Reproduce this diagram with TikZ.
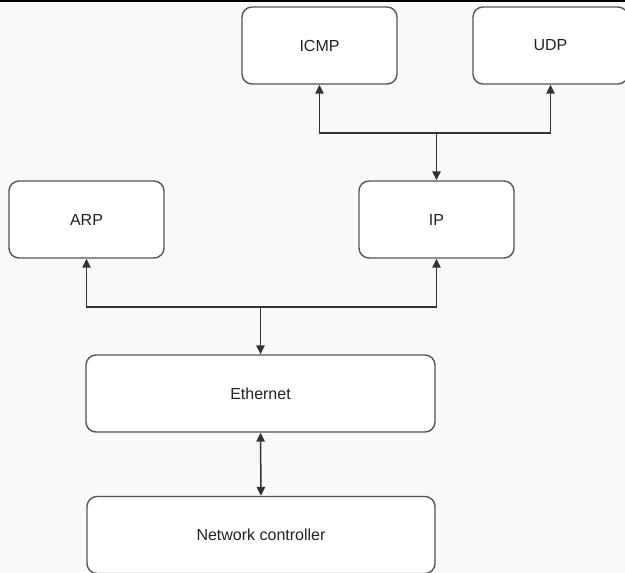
\documentclass[tikz,border=0pt]{standalone}
\usepackage{fontspec}
\setmainfont{Liberation Sans}
\usetikzlibrary{arrows.meta}
\definecolor{bgc}{HTML}{F9F9F9}
\definecolor{boxline}{HTML}{555555}
\definecolor{arrowc}{HTML}{333333}
\definecolor{textc}{HTML}{222222}
\begin{document}
\begin{tikzpicture}[x=1pt,y=-1pt,
  box/.style={draw=boxline, fill=white, rounded corners=10pt, line width=1.4pt,
    inner sep=0pt, minimum height=77pt, text=textc,
    font=\fontsize{16}{19}\selectfont},
  tip/.style={},
  conn/.style={draw=arrowc, line width=1.5pt, -{Triangle[length=9pt,width=8.5pt]}},
  dconn/.style={draw=arrowc, line width=1.5pt, {Triangle[length=9pt,width=8.5pt]}-{Triangle[length=9pt,width=8.5pt]}}]
\useasboundingbox (0,0) rectangle (625,573);
\fill[bgc] (0,0) rectangle (625,573);
\clip (0,0) rectangle (625,573);
\draw[black, line width=2pt] (0,1) -- (625,1);
\node[box, minimum width=155pt] (icmp) at (319.5,45.5) {ICMP};
\node[box, minimum width=155pt] (udp) at (550.5,45.5) {UDP};
\node[box, minimum width=155pt] (arp) at (86.5,219.5) {ARP};
\node[box, minimum width=155pt] (ip) at (436.5,219.5) {IP};
\node[box, minimum width=349pt] (eth) at (260.5,393.5) {Ethernet};
\node[box, minimum width=348pt] (nc) at (261,535) {Network controller};
\coordinate (j1) at (436.5,133);
\coordinate (j2) at (260.5,307);
\draw[conn] (j1) -| (icmp.south);
\draw[conn] (j1) -| (udp.south);
\draw[conn] (j1) -- (ip.north);
\draw[conn] (j2) -| (arp.south);
\draw[conn] (j2) -| (ip.south);
\draw[conn] (j2) -- (eth.north);
\draw[dconn] (eth.south) -- (nc.north);
\end{tikzpicture}
\end{document}
